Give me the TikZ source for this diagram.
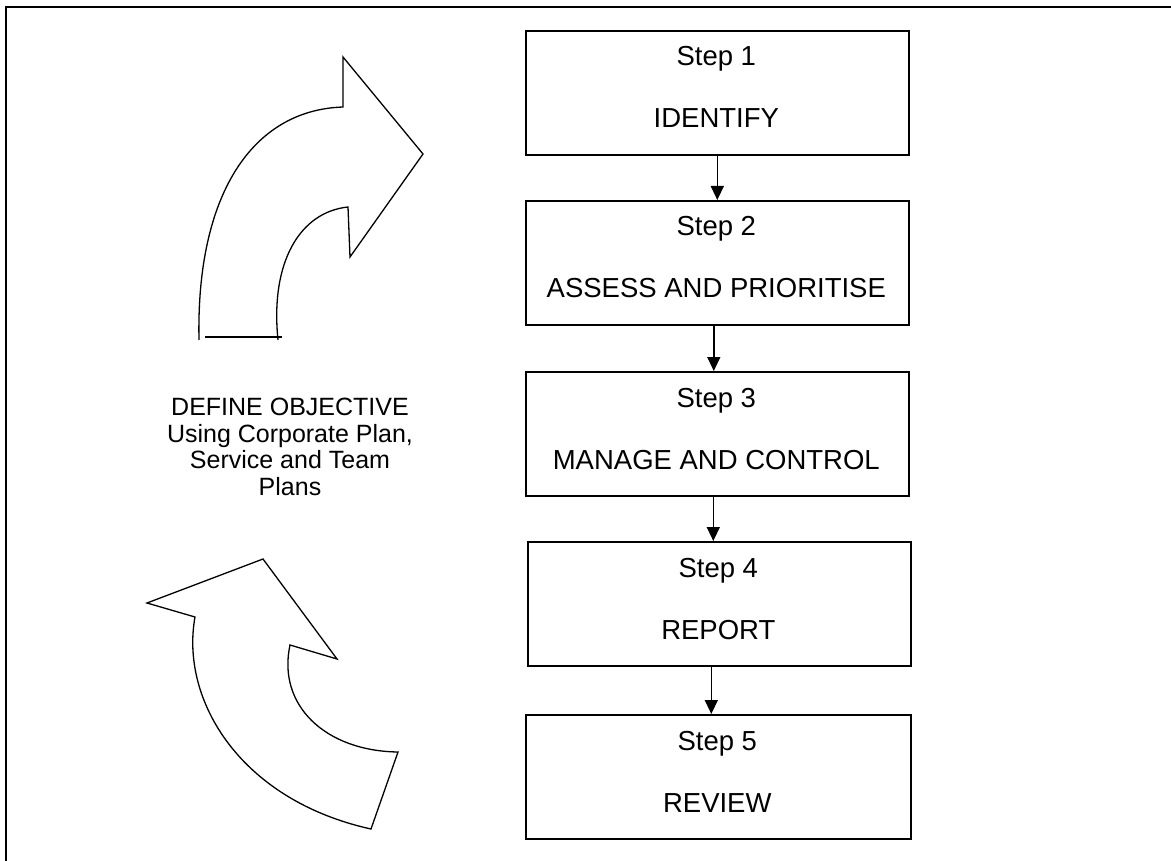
\documentclass[tikz,border=0pt]{standalone}
\usepackage{fontspec}
\setmainfont{Liberation Sans}
\usetikzlibrary{arrows.meta}

\begin{document}
\begin{tikzpicture}[x=1pt,y=-1pt,
  stepbox/.style={draw, line width=1.6pt, minimum width=383pt, minimum height=124pt,
    inner sep=0pt, anchor=north west},
  steplabel/.style={inner sep=0pt, anchor=base, font=\fontsize{27.5}{33}\selectfont},
  flow/.style={line width=1.4pt, -{Triangle[length=14pt,width=13pt]}},
  bigarrow/.style={line width=1.3pt, line join=miter},
]
\useasboundingbox (0,0) rectangle (1171,861);

% page frame
\draw[line width=2pt] (6,861) -- (6,7) -- (1171,7);

% process steps
\node[stepbox] (s1) at (525,30)  {};
\node[stepbox] (s2) at (525,200) {};
\node[stepbox] (s3) at (525,371) {};
\node[stepbox] (s4) at (527,541) {};
\node[stepbox, minimum width=385pt] (s5) at (525,714) {};

\node[steplabel] at ([xshift=-1pt,yshift=-36pt]s1.north) {Step 1};
\node[steplabel] at ([xshift=-1pt,yshift=-98pt]s1.north) {IDENTIFY};
\node[steplabel] at ([xshift=-1pt,yshift=-36pt]s2.north) {Step 2};
\node[steplabel] at ([xshift=-1pt,yshift=-98pt]s2.north) {ASSESS AND PRIORITISE};
\node[steplabel] at ([xshift=-1pt,yshift=-36pt]s3.north) {Step 3};
\node[steplabel] at ([xshift=-1pt,yshift=-98pt]s3.north) {MANAGE AND CONTROL};
\node[steplabel] at ([xshift=-1pt,yshift=-36pt]s4.north) {Step 4};
\node[steplabel] at ([xshift=-1pt,yshift=-98pt]s4.north) {REPORT};
\node[steplabel] at ([xshift=-1pt,yshift=-36pt]s5.north) {Step 5};
\node[steplabel] at ([xshift=-1pt,yshift=-98pt]s5.north) {REVIEW};

% connectors
\draw[flow] (s1.south) -- (s2.north);
\draw[flow] ([xshift=-3.5pt]s2.south) -- ([xshift=-3.5pt]s3.north);
\draw[flow] ([xshift=-4pt]s3.south) -- ([xshift=-6pt]s4.north);
\draw[flow] ([xshift=-8pt]s4.south) -- ([xshift=-7pt]s5.north);

% objective text
\node[inner sep=0pt, align=center, font=\fontsize{25}{26.7}\selectfont] (obj) at (290,447)
  {DEFINE OBJECTIVE\\Using Corporate Plan,\\Service and Team\\Plans};

% upper curved arrow
\draw[bigarrow] (199,340) .. controls (196,195) and (252,110) .. (343,107)
  -- (343,57) -- (423,154) -- (350,257) -- (348,207)
  .. controls (300,212) and (270,262) .. (278,340);
\draw[bigarrow] (205,337) -- (282,337);

% lower curved arrow
\draw[bigarrow] (371,829) .. controls (240,800) and (180,700) .. (195,617)
  -- (147,603) -- (263,559) -- (337,659) -- (290,645)
  .. controls (277,705) and (325,751) .. (398,752) -- cycle;
\end{tikzpicture}
\end{document}
